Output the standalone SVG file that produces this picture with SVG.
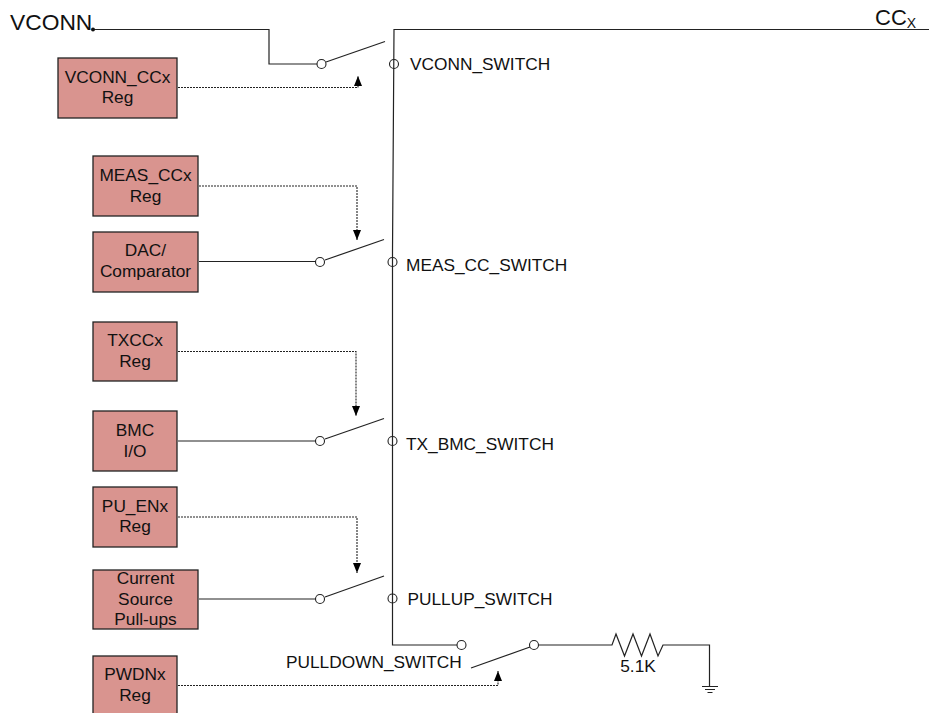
<svg xmlns="http://www.w3.org/2000/svg" width="929" height="713" viewBox="0 0 929 713">
<defs>
<marker id="ah" markerUnits="userSpaceOnUse" markerWidth="10" markerHeight="8" refX="10" refY="4" orient="auto" viewBox="0 0 10 8"><path d="M0 0 L10 4 L0 8 Z" fill="#000"/></marker>
</defs>
<style>
text{font-family:"Liberation Sans",Arial,sans-serif;font-size:17.300px;fill:#111}
.m{text-anchor:middle}
.box{fill:#d9948f;stroke:#222;stroke-width:1.3}
.w{fill:none;stroke:#222;stroke-width:1.2}
.d{fill:none;stroke:#222;stroke-width:1.1;stroke-dasharray:2 1}
.c{fill:#fff;fill-opacity:0;stroke:#222;stroke-width:1.1}
</style>
<rect width="929" height="713" fill="#fff"/>
<g id="connectors">
<path class="w" d="M93 29.500H269V64H317"/>
<path class="w" d="M326 62L385 41.500"/>
<path class="w" d="M929 29.500H394L392.500 252M392.500 252V645H457"/>
<path class="w" d="M199 261.500H316"/>
<path class="w" d="M325 260L384 239.500"/>
<path class="w" d="M178 441H316"/>
<path class="w" d="M325 439L384 418.500"/>
<path class="w" d="M199 599H316"/>
<path class="w" d="M325 597L384 576"/>
<path class="w" d="M471 668L530 647"/>
<path class="w" d="M539 645H612L616 634L624.500 656L633 634L641.500 656L650 634L658 656L663 645H709.500V686"/>
<path class="w" d="M702 686.500H718M705 689.500H715M707.500 692.500H712.500"/>
<path class="d" d="M178 87.500H358V76" marker-end="url(#ah)"/>
<path class="d" d="M199 186H357V240" marker-end="url(#ah)"/>
<path class="d" d="M178 351.500H356V416" marker-end="url(#ah)"/>
<path class="d" d="M178 517H357V573" marker-end="url(#ah)"/>
<path class="d" d="M178 685.500H498V671" marker-end="url(#ah)"/>
<circle cx="93" cy="29.500" r="2" fill="#111"/>
</g>
<g id="sw-vconn"><circle class="c" cx="321.500" cy="64" r="4.500"/><circle class="c" cx="394" cy="64" r="4.500"/><text x="410" y="70">VCONN_SWITCH</text></g>
<g id="sw-meas"><circle class="c" cx="320" cy="262" r="4.500"/><circle class="c" cx="392.500" cy="262" r="4.500"/><text x="406" y="271">MEAS_CC_SWITCH</text></g>
<g id="sw-tx"><circle class="c" cx="320" cy="441" r="4.500"/><circle class="c" cx="392.500" cy="441" r="4.500"/><text x="406" y="450">TX_BMC_SWITCH</text></g>
<g id="sw-pu"><circle class="c" cx="320" cy="599" r="4.500"/><circle class="c" cx="392.500" cy="598.500" r="4.500"/><text x="407.500" y="605">PULLUP_SWITCH</text></g>
<g id="sw-pd"><circle class="c" cx="461.500" cy="645" r="4.500"/><circle class="c" cx="534" cy="645" r="4.500"/><text x="286" y="668">PULLDOWN_SWITCH</text></g>
<g id="res"><text x="638" y="672" class="m">5.1K</text></g>
<g id="vconn-label"><text x="10" y="30" style="font-size:22.800px">VCONN</text></g>
<g id="ccx-label"><text x="875" y="25" style="font-size:22px">CC<tspan dy="3" style="font-size:14px">X</tspan></text></g>
<g id="n1"><rect class="box" x="58" y="58" width="119" height="60"/><text class="m" x="117.500" y="83">VCONN_CCx</text><text class="m" x="117.500" y="103">Reg</text></g>
<g id="n2"><rect class="box" x="93" y="156" width="105" height="60"/><text class="m" x="145.500" y="181">MEAS_CCx</text><text class="m" x="145.500" y="202">Reg</text></g>
<g id="n3"><rect class="box" x="93" y="232" width="105" height="60"/><text class="m" x="145.500" y="256">DAC/</text><text class="m" x="145.500" y="277">Comparator</text></g>
<g id="n4"><rect class="box" x="93" y="322" width="84" height="59"/><text class="m" x="135" y="346">TXCCx</text><text class="m" x="135" y="367">Reg</text></g>
<g id="n5"><rect class="box" x="93" y="411" width="84" height="60"/><text class="m" x="135" y="436">BMC</text><text class="m" x="135" y="457">I/O</text></g>
<g id="n6"><rect class="box" x="93" y="487" width="84" height="60"/><text class="m" x="135" y="512">PU_ENx</text><text class="m" x="135" y="532">Reg</text></g>
<g id="n7"><rect class="box" x="93" y="570" width="105" height="59"/><text class="m" x="145.500" y="584">Current</text><text class="m" x="145.500" y="605">Source</text><text class="m" x="145.500" y="625">Pull-ups</text></g>
<g id="n8"><rect class="box" x="93" y="656" width="84" height="60"/><text class="m" x="135" y="680">PWDNx</text><text class="m" x="135" y="701">Reg</text></g>
</svg>
